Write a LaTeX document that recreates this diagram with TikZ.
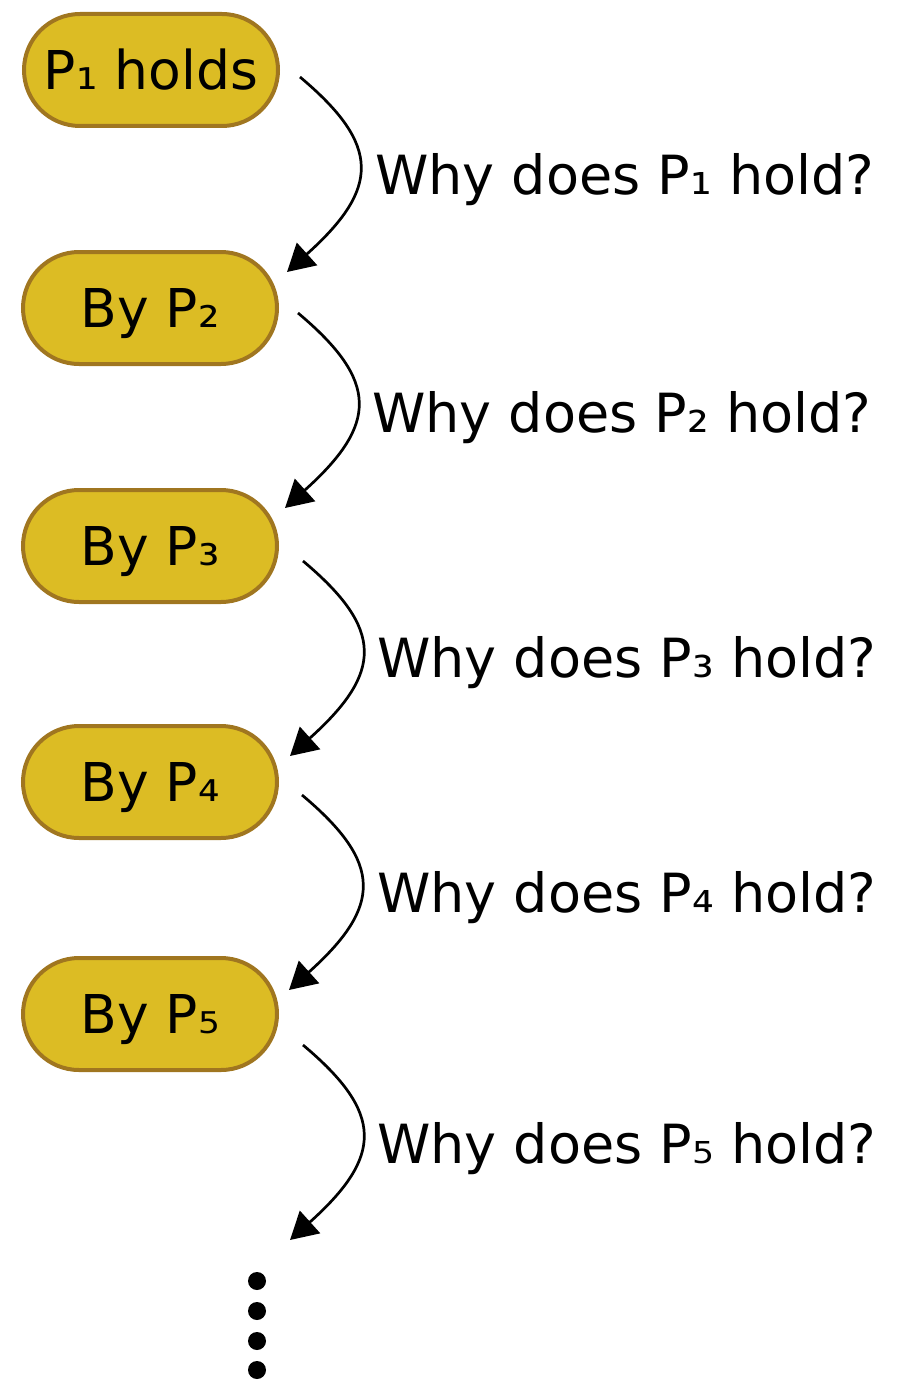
\documentclass[tikz,border=0pt]{standalone}
\usepackage{fontspec}
\setmainfont{DejaVu Sans}
\usetikzlibrary{arrows.meta,calc}
\definecolor{pillfill}{RGB}{220,188,36}
\definecolor{pillline}{RGB}{160,118,32}
\begin{document}
\begin{tikzpicture}[x=1pt,y=1pt,
  pill/.style={draw=pillline, fill=pillfill, line width=4pt, rounded corners=56pt,
    minimum width=254pt, minimum height=112pt, inner sep=0pt,
    font=\fontsize{53.5}{60}\selectfont, text height=39pt, text depth=0pt},
  why/.style={anchor=base west, inner sep=0pt, font=\fontsize{54}{60}\selectfont},
  conn/.style={line width=2.7pt, -{Triangle[length=27pt,width=30pt]}},
  dot/.style={circle, fill=black, inner sep=0pt, minimum size=18pt}]
\useasboundingbox (0,0) rectangle (907,-1383);
\node[pill] (n1) at (151,-70) {P₁ holds};
\node[pill] (n2) at (150,-308) {By P₂};
\node[pill] (n3) at (150,-546) {By P₃};
\node[pill] (n4) at (150,-782) {By P₄};
\node[pill] (n5) at (150,-1014) {By P₅};
% connector start points (beside each node)
\coordinate (s1) at (300,-77);
\coordinate (s2) at (298,-313);
\coordinate (s3) at (303,-561);
\coordinate (s4) at (302,-795);
\coordinate (s5) at (303,-1045);
\foreach \i in {1,...,5}{
  \coordinate (e\i) at ($(s\i)+(-13,-195)$);
  \coordinate (b\i) at ($(e\i)+(42:27)$);
  \draw[conn] (s\i) .. controls +(-40:106) and +(42:98) .. (b\i) -- (e\i);
}
\node[why] (w1) at (375,-195) {Why does P₁ hold?};
\node[why] (w2) at (372,-432) {Why does P₂ hold?};
\node[why] (w3) at (377,-677) {Why does P₃ hold?};
\node[why] (w4) at (377,-912) {Why does P₄ hold?};
\node[why] (w5) at (377,-1163) {Why does P₅ hold?};
\node[dot] (d1) at (257,-1281) {};
\node[dot] (d2) at (257,-1311) {};
\node[dot] (d3) at (257,-1341) {};
\node[dot] (d4) at (257,-1370) {};
\end{tikzpicture}
\end{document}
